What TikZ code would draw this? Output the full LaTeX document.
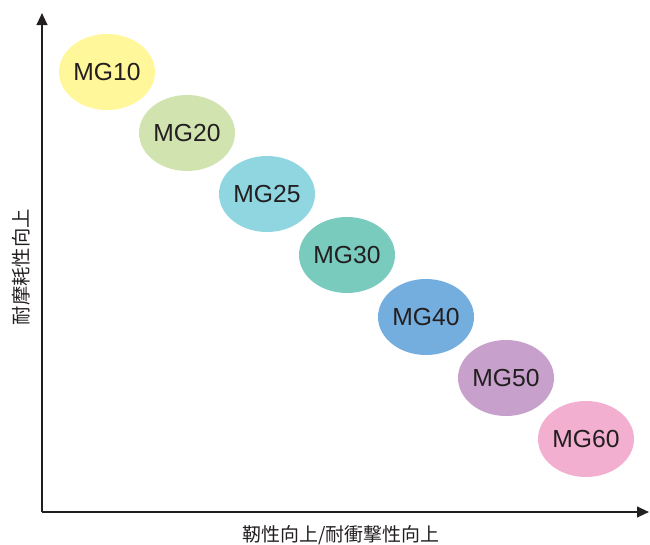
\documentclass[tikz,border=0pt]{standalone}
\usepackage{fontspec}
\setmainfont{Liberation Sans}
\newfontfamily\jpfont{Noto Sans CJK JP}
\usetikzlibrary{arrows.meta,shapes.geometric}
\definecolor{cA}{HTML}{FFF799}
\definecolor{cB}{HTML}{D1E4B0}
\definecolor{cC}{HTML}{8FD6E1}
\definecolor{cD}{HTML}{79CBBE}
\definecolor{cE}{HTML}{74AEDE}
\definecolor{cF}{HTML}{C7A1CB}
\definecolor{cG}{HTML}{F2AFCF}
\definecolor{txt}{HTML}{231F20}
\tikzset{
  grade/.style={ellipse, minimum width=72pt, minimum height=57pt, inner sep=0pt,
    text=txt, font=\fontsize{18.5}{20}\selectfont},
  axis/.style={line width=1.5pt, draw=txt, -{Triangle[width=8pt,length=9pt]}},
  axlabel/.style={text=txt, inner sep=0pt}
}
\begin{document}
\begin{tikzpicture}[x=0.75pt,y=-0.75pt]
\useasboundingbox (0,0) rectangle (650,544);
\coordinate (O) at (42,512);
\coordinate (Ytop) at (42,13);
\coordinate (Xend) at (649,512);
\draw[axis] (O) -- (Ytop);
\draw[axis] (O) -- (Xend);
\node[grade, fill=cA] (g10) at (107,72) {MG10};
\node[grade, fill=cB] (g20) at (187,133) {MG20};
\node[grade, fill=cC] (g25) at (267,194) {MG25};
\node[grade, fill=cD] (g30) at (347,255) {MG30};
\node[grade, fill=cE] (g40) at (426,317) {MG40};
\node[grade, fill=cF] (g50) at (506,378) {MG50};
\node[grade, fill=cG] (g60) at (586,439) {MG60};
\node[axlabel, rotate=90, font=\jpfont\fontsize{14.5}{16}\selectfont] (ylab) at (21,267) {耐摩耗性向上};
\node[axlabel, font=\jpfont\fontsize{14.2}{16}\selectfont] (xlab) at (341,535) {靭性向上/耐衝撃性向上};
\end{tikzpicture}
\end{document}
